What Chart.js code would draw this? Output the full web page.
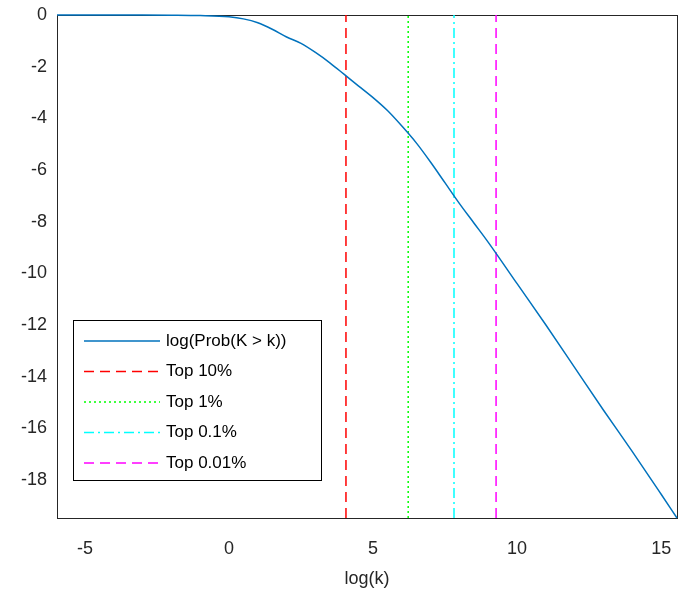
<!DOCTYPE html>
<html>
<head>
<script src="https://cdn.jsdelivr.net/npm/chart.js@4"></script>
<style>
  html, body { margin: 0; padding: 0; background: #fff; }
  #wrap { width: 681px; height: 594px; }
</style>
</head>
<body>
<div id="wrap"><canvas id="chart" width="681" height="594"></canvas></div>
<script>
// curve data: log(k) vs log(Prob(K > k))
const curveX = [-5.97, -3, -2, -1, 0, 0.5, 1, 1.5, 2, 2.5, 3, 3.5, 4, 4.5, 5, 5.5, 6, 6.5, 7, 7.5, 8, 8.5, 9, 10, 11, 12, 13, 14, 15, 15.55];
const curveY = [0, 0, -0.005, -0.02, -0.07, -0.15, -0.3, -0.55, -0.85, -1.1, -1.45, -1.85, -2.3, -2.75, -3.2, -3.7, -4.3, -4.95, -5.7, -6.5, -7.3, -8.05, -8.8, -10.4, -12.0, -13.65, -15.3, -16.9, -18.55, -19.47];

// threshold lines
const cutLabels = ['Top 10%', 'Top 1%', 'Top 0.1%', 'Top 0.01%'];
const cutX = [4.06, 6.22, 7.81, 9.27];
const cutColors = ['#ff0000', '#00ff00', '#00ffff', '#ff00ff'];
const cutDashes = [[10, 6], [2, 3], [10, 4, 2, 4], [10, 6]];

const xTicks = [-5, 0, 5, 10, 15];
const yTicks = [0, -2, -4, -6, -8, -10, -12, -14, -16, -18];
const xMin = -5.97, xMax = 15.55, yMin = -19.47, yMax = 0;

const datasets = [{
    label: 'log(Prob(K > k))',
    data: curveX.map((x, i) => ({ x: x, y: curveY[i] })),
    borderColor: '#0072bd',
    borderWidth: 1.5,
    pointRadius: 0,
    clip: 2,
    cubicInterpolationMode: 'monotone'
}];
cutX.forEach((x, i) => {
    datasets.push({
        label: cutLabels[i],
        data: [{ x: x, y: yMin }, { x: x, y: yMax }],
        borderColor: cutColors[i],
        borderWidth: 1.5,
        borderDash: cutDashes[i],
        pointRadius: 0
    });
});

const font = { family: 'Liberation Sans, Arial', size: 18 };

// axes box under the data, legend box on top, like MATLAB
const framePlugin = {
    id: 'frame',
    beforeDatasetsDraw(chart) {
        const ctx = chart.ctx, a = chart.chartArea;
        ctx.save();
        ctx.strokeStyle = '#262626';
        ctx.lineWidth = 1;
        ctx.strokeRect(a.left + 0.5, a.top + 0.5, a.right - a.left, a.bottom - a.top);
        ctx.restore();
    },
    afterDraw(chart) {
        const ctx = chart.ctx;
        ctx.save();
        const bx = 73, by = 320, bw = 248, bh = 160;
        ctx.fillStyle = '#fff';
        ctx.fillRect(bx, by, bw, bh);
        ctx.strokeStyle = '#000';
        ctx.lineWidth = 1;
        ctx.strokeRect(bx + 0.5, by + 0.5, bw, bh);
        ctx.font = '17px Liberation Sans, Arial';
        ctx.textBaseline = 'middle';
        chart.data.datasets.forEach((ds, i) => {
            const y = by + 21 + i * 30.5;
            ctx.strokeStyle = ds.borderColor;
            ctx.lineWidth = 1.5;
            ctx.setLineDash(ds.borderDash || []);
            ctx.beginPath();
            ctx.moveTo(84, y);
            ctx.lineTo(160, y);
            ctx.stroke();
            ctx.setLineDash([]);
            ctx.fillStyle = '#000';
            ctx.fillText(ds.label, 166, y);
        });
        ctx.restore();
    }
};

new Chart(document.getElementById('chart'), {
    type: 'line',
    data: { datasets: datasets },
    options: {
        responsive: false,
        animation: false,
        layout: { padding: { top: 15, right: 4, left: 0, bottom: 0 } },
        plugins: { legend: { display: false }, tooltip: { enabled: false } },
        scales: {
            x: {
                type: 'linear', min: xMin, max: xMax,
                afterBuildTicks: axis => { axis.ticks = xTicks.map(v => ({ value: v })); },
                afterFit: axis => { axis.height = 76; axis.paddingLeft = 0; axis.paddingRight = 0; },
                grid: { display: false, drawTicks: false },
                border: { display: false },
                ticks: { color: '#262626', font: font, padding: 20 },
                title: { display: true, text: 'log(k)', color: '#262626', font: font, padding: { top: 2 } }
            },
            y: {
                type: 'linear', min: yMin, max: yMax,
                afterBuildTicks: axis => { axis.ticks = yTicks.map(v => ({ value: v })); },
                afterFit: axis => { axis.width = 57; axis.paddingTop = 0; axis.paddingBottom = 0; },
                grid: { display: false, drawTicks: false },
                border: { display: false },
                ticks: { color: '#262626', font: font, padding: 10 }
            }
        }
    },
    plugins: [framePlugin]
});
</script>
</body>
</html>
